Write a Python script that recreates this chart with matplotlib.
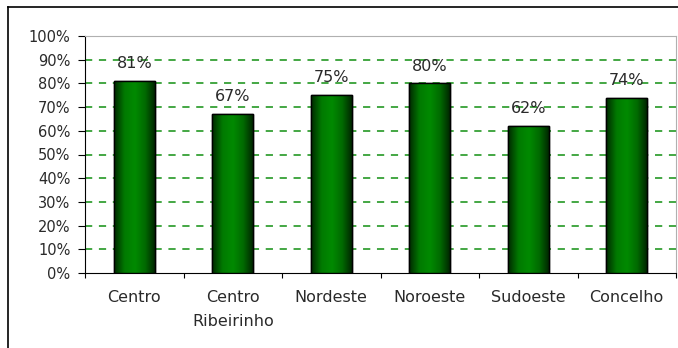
import matplotlib
matplotlib.use("Agg")
import matplotlib.pyplot as plt
import numpy as np
from matplotlib.colors import LinearSegmentedColormap
from matplotlib.lines import Line2D

categories = ["Centro", "Centro\nRibeirinho", "Nordeste", "Noroeste", "Sudoeste", "Concelho"]
values = [81, 67, 75, 80, 62, 74]
yticks = [0, 10, 20, 30, 40, 50, 60, 70, 80, 90, 100]

plt.rcParams['font.family'] = ['DejaVu Sans']

fig = plt.figure(figsize=(6.78, 3.48), dpi=100)
W, H = 678, 348
left, right, top, bottom = 85, 676, 36, 273
ax = fig.add_axes([left / W, 1 - bottom / H, (right - left) / W, (bottom - top) / H])

# outer frame (top and left visible)
fig.add_artist(Line2D([8 / W, 8 / W], [0, 1 - 7 / H], transform=fig.transFigure, color='black', lw=1.2))
fig.add_artist(Line2D([8 / W, 1], [1 - 7 / H, 1 - 7 / H], transform=fig.transFigure, color='black', lw=1.2))

x = np.arange(len(categories))
bw = 0.42
bars = ax.bar(x, values, width=bw, color='#006400', edgecolor='black', linewidth=1.0, zorder=3)

cmap = LinearSegmentedColormap.from_list('g', ['#002a00', '#007a00', '#008a00', '#006a00', '#002000'])
grad = np.linspace(0, 1, 100).reshape(1, -1)
for b in bars:
    bx, by = b.get_x(), b.get_y()
    im = ax.imshow(grad, cmap=cmap, aspect='auto', extent=[bx, bx + b.get_width(), by, by + b.get_height()],
                   zorder=3.5, interpolation='bicubic')
    im.set_clip_path(b)
    ax.bar(b.get_x() + b.get_width() / 2, b.get_height(), width=b.get_width(), fill=False,
           edgecolor='black', linewidth=1.0, zorder=4)

for xi, v in zip(x, values):
    ax.text(xi, v + 7.3, f"{v}%", ha='center', va='center', fontsize=11.5, color='#2a2a2a', zorder=5)

ax.set_xlim(-0.5, len(categories) - 0.5)
ax.set_ylim(0, 100)
ax.set_yticks(yticks)
ax.set_yticklabels([f"{t}%" for t in yticks], fontsize=10.5, color='#2a2a2a')
for t in yticks[1:-1]:
    ax.axhline(t, color='#35a035', lw=1.3, ls=(0, (4, 3.7)), zorder=1)

ax.set_xticks(np.arange(len(categories) + 1) - 0.5, minor=False)
ax.set_xticklabels([])
ax.set_xticks(x, minor=True)
ax.set_xticklabels(categories, minor=True, fontsize=11.5, color='#2a2a2a', linespacing=1.75)
ax.tick_params(axis='x', which='minor', length=0, pad=12)
ax.tick_params(axis='x', which='major', length=3.6, direction='out', color='black')
ax.tick_params(axis='y', length=5, direction='out', color='black', pad=5.5)

ax.spines['left'].set_color('black')
ax.spines['bottom'].set_color('black')
ax.spines['top'].set_color('#b0b0b0')
ax.spines['right'].set_color('#b0b0b0')

fig.savefig('out.png', dpi=100, facecolor='white')
